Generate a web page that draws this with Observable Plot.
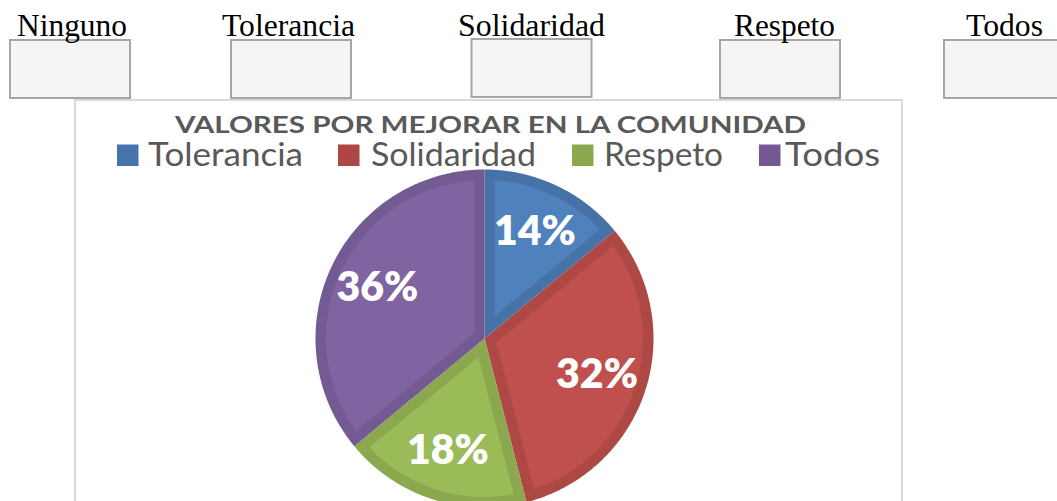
<!DOCTYPE html>
<html><head><meta charset="utf-8">
<script src="https://cdn.jsdelivr.net/npm/d3@7"></script>
<script src="https://cdn.jsdelivr.net/npm/@observablehq/plot@0.6"></script>
<style>
body{margin:0;background:#fff}
#wrap{position:relative;width:1057px;height:501px;overflow:hidden}
#bg{position:absolute;left:0;top:0}
#pie{position:absolute;left:314px;top:168px}
</style>
</head><body>
<div id="wrap"><svg id="bg" width="1057" height="501"></svg><div id="pie"></div></div>
<script>
// ---- data ----
const categories = ["Tolerancia", "Solidaridad", "Respeto", "Todos"];
const shares = [14, 32, 18, 36];
const fillColors = ["#4F81BD", "#C0504D", "#9BBB59", "#8064A2"];
const edgeColors = ["#4672A8", "#AD4845", "#8BA84F", "#735A92"];
const legendColors = ["#4673AA", "#AE4744", "#8BA84F", "#755893"];
const headerLabels = ["Ninguno", "Tolerancia", "Solidaridad", "Respeto", "Todos"];
const chartTitle = "VALORES POR MEJORAR EN LA COMUNIDAD";

// ---- layout (not data) ----
const headerLayout = [
  {x: 17, w: 110, bx: 10, by: 40},
  {x: 222, w: 133, bx: 231, by: 40},
  {x: 458, w: 147, bx: 471.5, by: 39},
  {x: 734, w: 101, bx: 720, by: 40},
  {x: 966, w: 77, bx: 944, by: 40}
];
const legendLayout = [
  {sx: 117, tx: 148, tw: 155},
  {sx: 338, tx: 371, tw: 165},
  {sx: 572, tx: 604, tw: 119},
  {sx: 759, tx: 785, tw: 95}
];

const svg = d3.select("#bg");
svg.append("rect").attr("x", 75).attr("y", 100).attr("width", 827).attr("height", 460)
  .attr("fill", "#fff").attr("stroke", "#d9d9d9").attr("stroke-width", 2);
headerLabels.forEach((t, i) => {
  const L = headerLayout[i];
  svg.append("rect").attr("x", L.bx).attr("y", L.by).attr("width", 120).attr("height", 58)
    .attr("fill", "#f5f5f5").attr("stroke", "#a6a6a6").attr("stroke-width", 2);
  svg.append("text").attr("x", L.x).attr("y", 36).attr("textLength", L.w)
    .attr("lengthAdjust", "spacingAndGlyphs")
    .attr("font-family", "'Liberation Serif', 'Times New Roman', serif").attr("font-size", 31)
    .attr("fill", "#000").text(t);
});
svg.append("text").attr("x", 175).attr("y", 133).attr("textLength", 631)
  .attr("lengthAdjust", "spacingAndGlyphs")
  .attr("font-family", "Lato, 'Open Sans', sans-serif").attr("font-weight", "bold")
  .attr("font-size", 23.5).attr("fill", "#595959").text(chartTitle);
categories.forEach((c, i) => {
  const L = legendLayout[i];
  svg.append("rect").attr("x", L.sx).attr("y", 144.5).attr("width", 21.5).attr("height", 21.5)
    .attr("fill", legendColors[i]);
  svg.append("text").attr("x", L.tx).attr("y", 166).attr("textLength", L.tw)
    .attr("lengthAdjust", "spacingAndGlyphs")
    .attr("font-family", "Lato, 'Open Sans', sans-serif")
    .attr("font-size", 33).attr("fill", "#595959").text(c);
});

// ---- pie geometry from data ----
const R = 1;
const edge = 10.5 / 169;
const total = d3.sum(shares);
let acc = 0;
const slices = shares.map((v, i) => {
  const a0 = acc / total * 2 * Math.PI;
  acc += v;
  const a1 = acc / total * 2 * Math.PI;
  return {i, a0, a1};
});
function wedge(a0, a1, d) {
  const pts = [];
  if (d === 0) {
    pts.push({x: 0, y: 0});
    const n = Math.max(8, Math.ceil((a1 - a0) / (Math.PI / 360)));
    for (let k = 0; k <= n; k++) {
      const t = a0 + (a1 - a0) * k / n;
      pts.push({x: R * Math.sin(t), y: R * Math.cos(t)});
    }
  } else {
    const h = (a1 - a0) / 2;
    const ad = d / Math.sin(h);
    pts.push({x: ad * Math.sin(a0 + h), y: ad * Math.cos(a0 + h)});
    const ri = R - d;
    const del = Math.asin(d / ri);
    const b0 = a0 + del, b1 = a1 - del;
    const n = Math.max(8, Math.ceil((b1 - b0) / (Math.PI / 360)));
    for (let k = 0; k <= n; k++) {
      const t = b0 + (b1 - b0) * k / n;
      pts.push({x: ri * Math.sin(t), y: ri * Math.cos(t)});
    }
  }
  return pts;
}
const marks = [];
slices.forEach(s => {
  marks.push(Plot.line(wedge(s.a0, s.a1, 0), {x: "x", y: "y", fill: edgeColors[s.i], stroke: "none"}));
});
slices.forEach(s => {
  marks.push(Plot.line(wedge(s.a0, s.a1, edge), {x: "x", y: "y", fill: fillColors[s.i], stroke: "none"}));
});
const labelRows = slices.map(s => {
  const m = (s.a0 + s.a1) / 2;
  return {x: 0.7 * Math.sin(m), y: 0.7 * Math.cos(m), label: shares[s.i] + "%"};
});
marks.push(Plot.text(labelRows, {
  x: "x", y: "y", text: "label", fill: "#fff", fontSize: 41, fontWeight: 800,
  fontFamily: "Lato, 'Open Sans', sans-serif", textAnchor: "middle", lineAnchor: "middle"
}));

const chart = Plot.plot({
  width: 340, height: 340, margin: 0, inset: 1,
  x: {domain: [-1, 1], axis: null},
  y: {domain: [-1, 1], axis: null},
  style: {background: "transparent", overflow: "visible"},
  marks
});
document.getElementById("pie").appendChild(chart);
</script>
</body></html>
